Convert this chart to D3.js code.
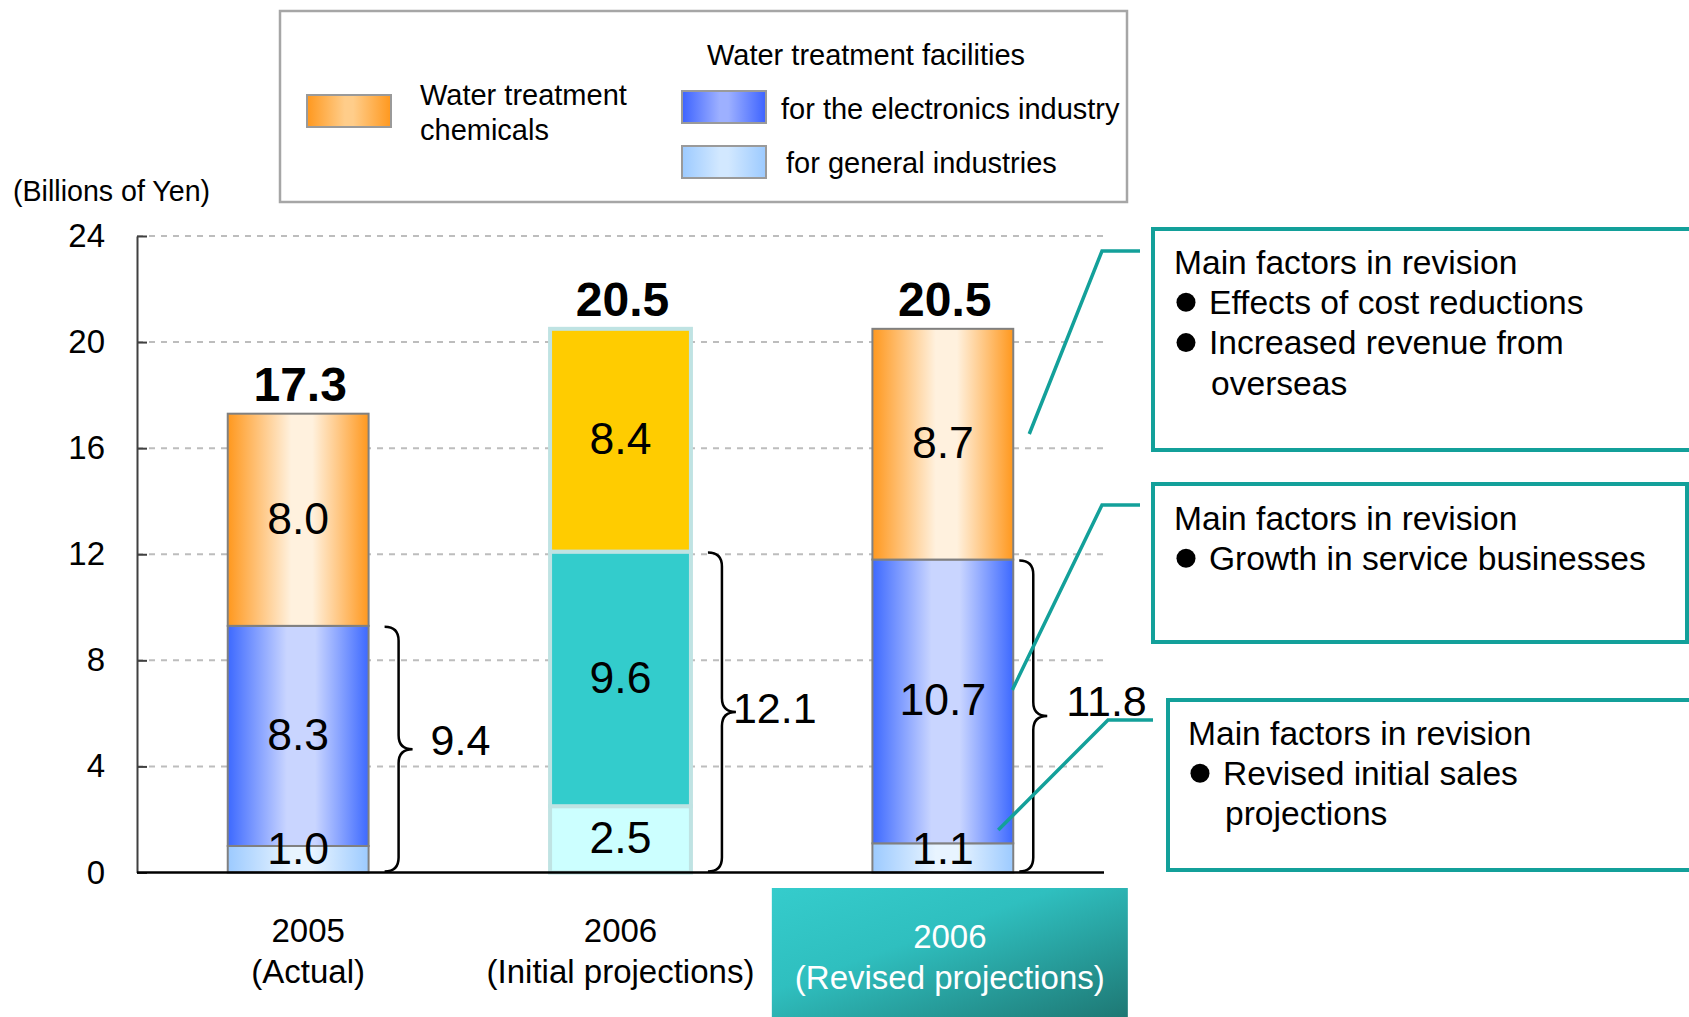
<!DOCTYPE html>
<html>
<head>
<meta charset="utf-8">
<script src="https://cdn.jsdelivr.net/npm/d3@7/dist/d3.min.js"></script>
<style>
body { margin: 0; background: #fff; }
text { font-family: "Liberation Sans", Arial, sans-serif; fill: #000; }
</style>
</head>
<body>
<div id="chart"></div>
<script>
/* Water treatment sales: stacked bars with revision notes */

// data
const years = ["2005", "2006", "2006"];
const periods = ["(Actual)", "(Initial projections)", "(Revised projections)"];
const generalIndustries = [1.0, 2.5, 1.1];
const electronicsIndustry = [8.3, 9.6, 10.7];
const chemicals = [8.0, 8.4, 8.7];
const facilitiesLabels = ["9.4", "12.1", "11.8"];
const yTicks = [0, 4, 8, 12, 16, 20, 24];
const seriesKeys = ["general", "electronics", "chemicals"];

const notes = [
  ["Main factors in revision", "\u2022Effects of cost reductions", "\u2022Increased revenue from", "overseas"],
  ["Main factors in revision", "\u2022Growth in service businesses"],
  ["Main factors in revision", "\u2022Revised initial sales", "projections"]
];

const rows = years.map((d, i) => ({
  general: generalIndustries[i],
  electronics: electronicsIndustry[i],
  chemicals: chemicals[i]
}));
const stacked = d3.stack().keys(seriesKeys)(rows);

// set the dimensions
const W = 1689, H = 1017;
const plot = {left: 137, right: 1104, top: 236, bottom: 872.5};

const svg = d3.select("#chart")
  .append("svg")
  .attr("width", W)
  .attr("height", H);

const defs = svg.append("defs");

function hGrad(id, edge, mid, a, b) {
  const g = defs.append("linearGradient").attr("id", id)
    .attr("x1", 0).attr("x2", 1).attr("y1", 0).attr("y2", 0);
  [[0, edge], [a, mid], [b, mid], [1, edge]].forEach(s => {
    g.append("stop").attr("offset", s[0]).attr("stop-color", s[1]);
  });
}
hGrad("grad-chemicals", "#ff981e", "#fff1de", 0.45, 0.6);
hGrad("grad-electronics", "#3d69ff", "#c9d5ff", 0.42, 0.62);
hGrad("grad-general", "#9ccaff", "#e8f4ff", 0.45, 0.6);
hGrad("leg-chemicals", "#ff981e", "#ffcd8a", 0.45, 0.55);
hGrad("leg-electronics", "#3d63ff", "#9db0ff", 0.45, 0.55);
hGrad("leg-general", "#9ccaff", "#d2e8ff", 0.45, 0.55);

const teal = defs.append("linearGradient").attr("id", "teal-box")
  .attr("x1", 0).attr("y1", 0).attr("x2", 1).attr("y2", 1);
teal.append("stop").attr("offset", 0).attr("stop-color", "#35cccc");
teal.append("stop").attr("offset", 0.4).attr("stop-color", "#2fbfbf");
teal.append("stop").attr("offset", 1).attr("stop-color", "#1e7874");

const flatColors = {general: "#ccffff", electronics: "#33cccc", chemicals: "#ffcc00"};

// scales
const x = d3.scaleBand().domain(d3.range(years.length))
  .range([plot.left, plot.right])
  .paddingInner(0.563).paddingOuter(0.2815);
const y = d3.scaleLinear().domain([0, 24]).range([plot.bottom, plot.top]);
const bw = x.bandwidth();

// grid
svg.append("g").selectAll("line")
  .data(yTicks.filter(t => t > 0))
  .join("line")
  .attr("x1", plot.left).attr("x2", plot.right)
  .attr("y1", d => y(d)).attr("y2", d => y(d))
  .attr("stroke", "#bdbdbd").attr("stroke-width", 2)
  .attr("stroke-dasharray", "6,6");

// y axis
const yAxis = svg.append("g")
  .attr("transform", "translate(" + plot.left + ",0)")
  .call(d3.axisLeft(y).tickValues(yTicks).tickSizeInner(-10).tickSizeOuter(0).tickPadding(32));
yAxis.select(".domain").attr("stroke", "#404040").attr("stroke-width", 2);
yAxis.selectAll(".tick line").attr("stroke", "#404040").attr("stroke-width", 2);
yAxis.selectAll(".tick text")
  .style("font-family", '"Liberation Sans", Arial, sans-serif')
  .style("font-size", "33px").attr("fill", "#000");

svg.append("text").attr("x", 13).attr("y", 191).attr("dy", "0.35em")
  .style("font-size", "28.6px").text("(Billions of Yen)");

// bars
const segments = stacked.flatMap(s => s.map((d, i) => ({key: s.key, i: i, y0: d[0], y1: d[1], v: d[1] - d[0]})));

svg.append("g").selectAll("rect")
  .data(segments)
  .join("rect")
  .attr("x", d => x(d.i))
  .attr("width", bw)
  .attr("y", d => y(d.y1))
  .attr("height", d => y(d.y0) - y(d.y1))
  .attr("fill", d => d.i === 1 ? flatColors[d.key] : "url(#grad-" + d.key + ")")
  .attr("stroke", d => d.i === 1 ? "#bfe3e3" : "#808080")
  .attr("stroke-width", d => d.i === 1 ? 4 : 2);

// x axis line
svg.append("line")
  .attr("x1", plot.left).attr("x2", plot.right)
  .attr("y1", y(0)).attr("y2", y(0))
  .attr("stroke", "#000").attr("stroke-width", 2.5);

// segment labels, on top of every bar
const segFont = 44.5;
svg.append("g").selectAll("text")
  .data(segments)
  .join("text")
  .attr("x", d => x(d.i) + bw / 2)
  .attr("y", d => Math.min((y(d.y0) + y(d.y1)) / 2 + 0.358 * segFont - 2, y(d.y0) - 8.5))
  .attr("text-anchor", "middle")
  .style("font-size", segFont + "px")
  .text(d => d3.format(".1f")(d.v));

// totals
svg.append("g").selectAll("text")
  .data(rows)
  .join("text")
  .attr("x", (d, i) => x(i) + bw / 2 + 2)
  .attr("y", d => y(d.general + d.electronics + d.chemicals) - 13)
  .attr("text-anchor", "middle")
  .style("font-size", "48px").style("font-weight", "bold")
  .text(d => d3.format(".1f")(d.general + d.electronics + d.chemicals));

// braces for facilities subtotal
function brace(x0, yTop, yBot, w) {
  const r = w / 2, ym = (yTop + yBot) / 2;
  return "M" + x0 + "," + yTop +
    " Q" + (x0 + r) + "," + yTop + " " + (x0 + r) + "," + (yTop + r) +
    " L" + (x0 + r) + "," + (ym - r) +
    " Q" + (x0 + r) + "," + ym + " " + (x0 + w) + "," + ym +
    " Q" + (x0 + r) + "," + ym + " " + (x0 + r) + "," + (ym + r) +
    " L" + (x0 + r) + "," + (yBot - r) +
    " Q" + (x0 + r) + "," + yBot + " " + x0 + "," + yBot;
}
const braceGap = [16, 17, 6];
const labelGap = [18, -3, 19];
const labelLift = [9, 4, 15];
const braces = svg.append("g");
rows.forEach((d, i) => {
  const x0 = x(i) + bw + braceGap[i];
  const yTop = y(d.general + d.electronics) + 1;
  const yBot = y(0) - 1;
  braces.append("path")
    .attr("d", brace(x0, yTop, yBot, 28))
    .attr("fill", "none").attr("stroke", "#000").attr("stroke-width", 2.5);
  braces.append("text")
    .attr("x", x0 + 28 + labelGap[i])
    .attr("y", (yTop + yBot) / 2 - labelLift[i])
    .attr("dy", "0.35em")
    .style("font-size", "43px")
    .text(facilitiesLabels[i]);
});

// category labels
const last = years.length - 1;
const catShift = [10, 0, 7];
svg.append("rect")
  .attr("x", x(last) + bw / 2 - 171).attr("y", 888)
  .attr("width", 356).attr("height", H - 888)
  .attr("fill", "url(#teal-box)");

const cats = svg.append("g").selectAll("g")
  .data(years)
  .join("g")
  .attr("transform", (d, i) => "translate(" + (x(i) + bw / 2 + catShift[i]) + "," + (i === last ? 936 : 930) + ")");
cats.append("text").attr("text-anchor", "middle").attr("dy", "0.35em")
  .style("font-size", "33px")
  .style("fill", (d, i) => i === last ? "#fff" : "#000")
  .text(d => d);
cats.append("text").attr("text-anchor", "middle").attr("y", 41).attr("dy", "0.35em")
  .style("font-size", "33px")
  .style("fill", (d, i) => i === last ? "#fff" : "#000")
  .text((d, i) => periods[i]);

// legend
svg.append("rect").attr("x", 280).attr("y", 11).attr("width", 847).attr("height", 191)
  .attr("fill", "#fff").attr("stroke", "#a6a6a6").attr("stroke-width", 2.5);
const legItems = [
  {key: "chemicals", x: 307, y: 95},
  {key: "electronics", x: 682, y: 91},
  {key: "general", x: 682, y: 146}
];
svg.append("g").selectAll("rect")
  .data(legItems)
  .join("rect")
  .attr("x", d => d.x).attr("y", d => d.y)
  .attr("width", 84).attr("height", 32)
  .attr("fill", d => "url(#leg-" + d.key + ")")
  .attr("stroke", "#9a9a9a").attr("stroke-width", 2);
const legText = [
  {t: "Water treatment", x: 420, y: 95},
  {t: "chemicals", x: 420, y: 130},
  {t: "Water treatment facilities", x: 707, y: 55},
  {t: "for the electronics industry", x: 781, y: 109},
  {t: "for general industries", x: 786, y: 163}
];
svg.append("g").selectAll("text")
  .data(legText)
  .join("text")
  .attr("x", d => d.x).attr("y", d => d.y).attr("dy", "0.35em")
  .style("font-size", "29px")
  .text(d => d.t);

// revision notes
const noteColor = "#13a09a";
const noteBoxes = [
  {x: 1153, y: 229, w: 560, h: 221, tx: 1174, ty: 262,
   from: [x(last) + bw + 16, 434], corner: [1102, 251], end: 1140},
  {x: 1153, y: 484, w: 534, h: 158, tx: 1174, ty: 518,
   from: [x(last) + bw - 1, 690], corner: [1102, 505], end: 1140},
  {x: 1168, y: 700, w: 560, h: 170, tx: 1188, ty: 733,
   from: [x(last) + bw - 15, 830], corner: [1108, 720], end: 1153}
];
const lineGap = 40.3;
noteBoxes.forEach((b, k) => {
  svg.append("rect").attr("x", b.x).attr("y", b.y).attr("width", b.w).attr("height", b.h)
    .attr("fill", "none").attr("stroke", noteColor).attr("stroke-width", 4);
  svg.append("polyline")
    .attr("points", [b.from, b.corner, [b.end, b.corner[1]]].map(p => p.join(",")).join(" "))
    .attr("fill", "none").attr("stroke", noteColor).attr("stroke-width", 3.5);
  notes[k].forEach((line, j) => {
    const ly = b.ty + j * lineGap;
    if (line.startsWith("\u2022")) {
      svg.append("circle").attr("cx", b.tx + 12).attr("cy", ly).attr("r", 9.5).attr("fill", "#000");
      svg.append("text").attr("x", b.tx + 35).attr("y", ly).attr("dy", "0.35em")
        .style("font-size", "33.6px").text(line.slice(1));
    } else {
      svg.append("text").attr("x", j === 0 ? b.tx : b.tx + 37).attr("y", ly).attr("dy", "0.35em")
        .style("font-size", "33.6px").text(line);
    }
  });
});
</script>
</body>
</html>
